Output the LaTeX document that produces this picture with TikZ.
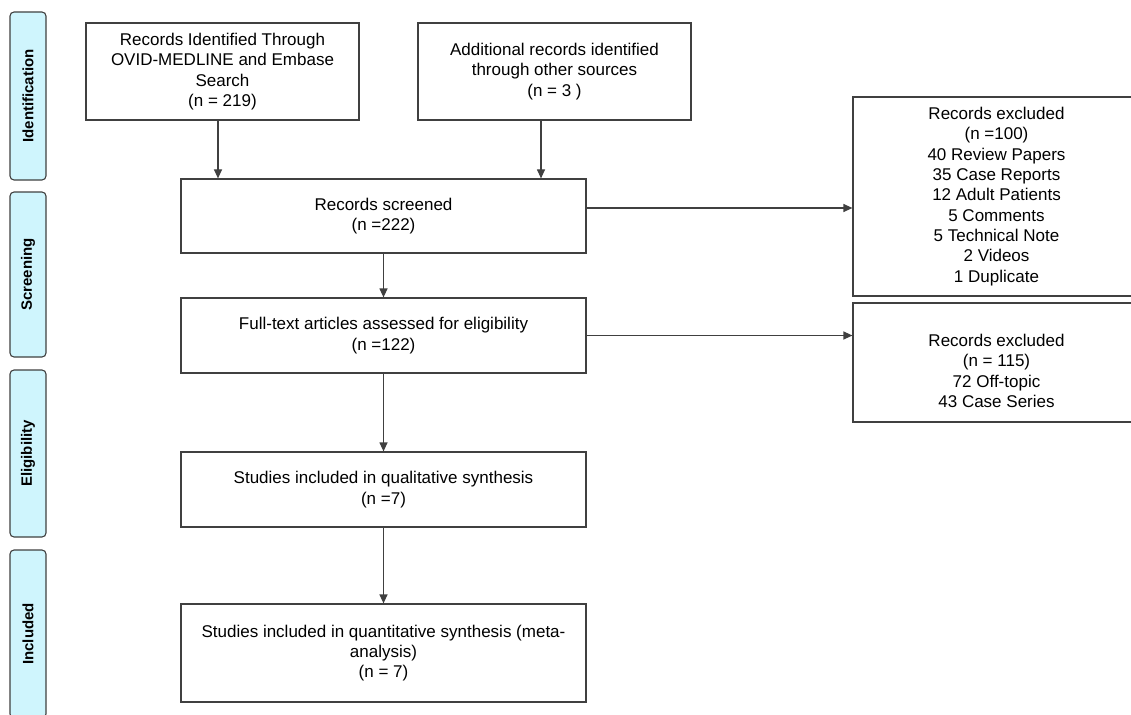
\documentclass[tikz,border=0pt]{standalone}
\usepackage{fontspec}
\setmainfont{Liberation Sans}
\usetikzlibrary{arrows.meta}
\definecolor{barfill}{RGB}{207,245,253}
\definecolor{linegray}{RGB}{64,64,64}
\begin{document}
\begin{tikzpicture}[x=1pt,y=-1pt,
  box/.style={draw=linegray,line width=1.2pt,fill=white,rectangle,align=center,inner sep=0pt,font=\fontsize{17}{20.3}\selectfont},
  boxtext/.style={align=center,inner sep=0pt,font=\fontsize{17}{20.3}\selectfont},
  bar/.style={draw=linegray,line width=1.1pt,fill=barfill,rounded corners=4pt,rotate=90,minimum height=36pt,inner sep=0pt,font=\fontsize{15}{18}\selectfont\bfseries},
  arr/.style={draw=linegray,line width=1.2pt,-{Triangle[length=9pt,width=8pt]}}]
\useasboundingbox (0,0) rectangle (1131,714);
\clip (0,0) rectangle (1131,714);
% phase bars
\node[bar,minimum width=168pt] (bid) at (28,96) {Identification};
\node[bar,minimum width=165pt] (bsc) at (28,274.5) {Screening};
\node[bar,minimum width=167pt] (bel) at (28,453.5) {Eligibility};
\node[bar,minimum width=168pt] (bin) at (28,634) {Included};
% boxes
\node[box,minimum width=273pt,minimum height=97pt] (id1) at (222.5,71.5) {Records Identified Through\\OVID-MEDLINE and Embase\\Search\\(n = 219)};
\node[box,minimum width=273pt,minimum height=97pt] (id2) at (554.5,71.5) {Additional records identified\\through other sources\\(n = 3 )};
\node[box,minimum width=405pt,minimum height=74pt] (scr) at (383.5,216) {Records screened\\(n =222)};
\node[box,minimum width=287pt,minimum height=199pt] (ex1) at (996.5,196.5) {Records excluded\\(n =100)\\40 Review Papers\\35 Case Reports\\12 Adult Patients\\5 Comments\\5 Technical Note\\2 Videos\\1 Duplicate};
\node[box,minimum width=405pt,minimum height=75pt] (ft) at (383.5,335.5) {Full-text articles assessed for eligibility\\(n =122)};
\node[box,minimum width=287pt,minimum height=119pt] (ex2) at (996.5,362.5) {};
\node[boxtext] (ex2t) at (996.5,371) {Records excluded\\(n = 115)\\72 Off-topic\\43 Case Series};
\node[box,minimum width=405pt,minimum height=75pt] (qual) at (383.5,489.5) {Studies included in qualitative synthesis\\(n =7)};
\node[box,minimum width=405pt,minimum height=98pt] (quant) at (383.5,653) {Studies included in quantitative synthesis (meta-\\analysis)\\(n = 7)};
% connectors
\draw[arr] ([xshift=-4.5pt]id1.south) coordinate (a1) -- (a1 |- scr.north);
\draw[arr] ([xshift=-13.5pt]id2.south) coordinate (a2) -- (a2 |- scr.north);
\draw[arr] ([yshift=8pt]scr.east) coordinate (a3) -- (a3 -| ex1.west);
\draw[arr] (scr.south) -- (ft.north);
\draw[arr] (ft.east) -- (ft.east -| ex2.west);
\draw[arr] (ft.south) -- (qual.north);
\draw[arr] (qual.south) -- (quant.north);
\end{tikzpicture}
\end{document}
